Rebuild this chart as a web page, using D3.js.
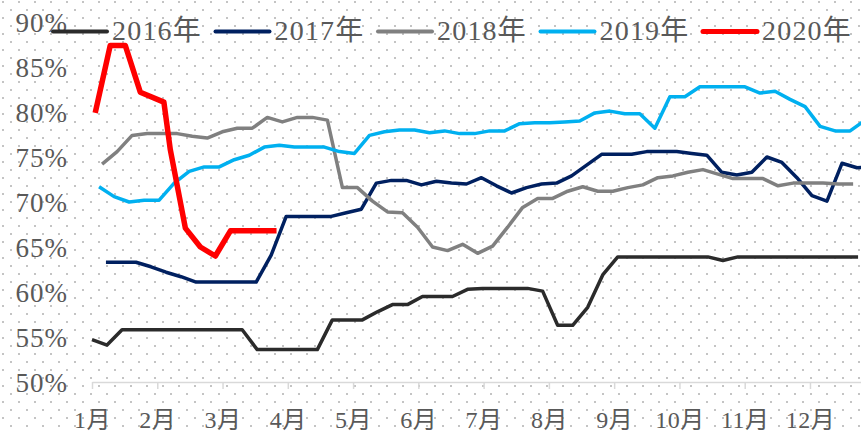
<!DOCTYPE html>
<html>
<head>
<meta charset="utf-8">
<script src="https://cdn.jsdelivr.net/npm/d3@7"></script>
<style>
  html, body { margin: 0; padding: 0; background: #fff; }
  svg { display: block; }
</style>
</head>
<body>
<div id="chart"></div>
<script>
// month labels and y ticks
var months = ["1月","2月","3月","4月","5月","6月","7月","8月","9月","10月","11月","12月"]
var yTicks = [50, 55, 60, 65, 70, 75, 80, 85, 90]
var years = ["2016年","2017年","2018年","2019年","2020年"]
var colours = ["#2b2b2b","#002060","#808080","#00b0f0","#ff0000"]

// weekly series: first point's day of year, one value per week (%)
var startDays = [0, 6.5, 4.7, 3.3]
var v2016 = [54.7,54.1,55.8,55.8,55.8,55.8,55.8,55.8,55.8,55.8,55.8,53.6,53.6,53.6,53.6,53.6,56.9,56.9,56.9,57.8,
  58.6,58.6,59.5,59.5,59.5,60.3,60.4,60.4,60.4,60.4,60.1,56.3,56.3,58.3,61.9,63.9,63.9,63.9,63.9,63.9,
  63.9,63.9,63.5,63.9,63.9,63.9,63.9,63.9,63.9,63.9,63.9,63.9]
var v2017 = [63.3,63.3,63.3,62.8,62.2,61.7,61.1,61.1,61.1,61.1,61.1,64.1,68.4,68.4,68.4,68.4,68.8,69.2,72.1,72.4,
  72.4,71.9,72.3,72.1,72.0,72.7,71.8,71.0,71.6,72.0,72.1,72.9,74.1,75.3,75.3,75.3,75.6,75.6,75.6,75.4,
  75.2,73.3,73.0,73.3,75.0,74.4,72.7,70.7,70.1,74.3,73.8,73.9]
var v2018 = [74.2,75.6,77.4,77.6,77.6,77.6,77.3,77.1,77.8,78.2,78.2,79.4,78.9,79.4,79.4,79.1,71.6,71.6,70.1,68.9,
  68.8,67.2,65.0,64.6,65.3,64.3,65.1,67.2,69.4,70.4,70.4,71.2,71.7,71.2,71.2,71.6,71.9,72.7,72.9,73.3,
  73.6,73.1,72.6,72.6,72.6,71.8,72.1,72.1,72.1,72.0,72.0]
var v2019 = [71.7,70.6,70.0,70.2,70.2,72.1,73.4,73.9,73.9,74.7,75.2,76.1,76.3,76.1,76.1,76.1,75.6,75.4,77.4,77.8,
  78.0,78.0,77.7,77.9,77.6,77.6,77.9,77.9,78.7,78.8,78.8,78.9,79.0,79.9,80.1,79.8,79.8,78.2,81.7,81.7,
  82.8,82.8,82.8,82.8,82.1,82.3,81.4,80.6,78.4,77.9,77.9,79.1]
// 2020 has irregular dates
var days2020 = [1.5,8.5,15.5,22.5,33.5,36.5,43.5,50.5,57.5,64.5,71.5,78.5,86]
var v2020 = [79.9,87.4,87.4,82.2,81.1,75.8,67.1,65.0,64.0,66.8,66.8,66.8,66.8]

var width = 861, height = 433

var svg = d3.select("#chart").append("svg")
  .attr("width", width)
  .attr("height", height)

// dotted background
var defs = svg.append("defs")
var pat = defs.append("pattern")
  .attr("id", "dots")
  .attr("patternUnits", "userSpaceOnUse")
  .attr("width", 16).attr("height", 16)
pat.append("rect").attr("x", 2).attr("y", 1).attr("width", 2).attr("height", 2).attr("fill", "#c4c4c4")
pat.append("rect").attr("x", 10).attr("y", 9).attr("width", 2).attr("height", 2).attr("fill", "#c4c4c4")

svg.append("rect").attr("width", width).attr("height", height).attr("fill", "#fff")
svg.append("rect").attr("width", width).attr("height", height).attr("fill", "url(#dots)")

// scales: x in day of year, month spacing 65.27px
var x = d3.scaleLinear().domain([0, 365]).range([92, 92 + 12 * 65.27])
var y = d3.scaleLinear().domain([50, 90]).range([382, 22])

// x axis
var xAxis = d3.axisBottom(x)
  .tickValues(months.map(function (m, i) { return i * 365 / 12 }))
  .tickFormat(function (d, i) { return months[i] })
  .tickSize(7)
  .tickSizeOuter(0)
  .tickPadding(22)
var gx = svg.append("g")
  .attr("transform", "translate(0," + y(50) + ")")
  .call(xAxis)
gx.select(".domain").attr("stroke", "#d9d9d9").attr("stroke-width", 1.5)
gx.selectAll(".tick line").attr("stroke", "#d9d9d9").attr("stroke-width", 1.5)
gx.selectAll("text")
  .attr("fill", "#595959")
  .style("font-family", "'Liberation Serif', 'Noto Sans CJK SC', serif")
  .style("font-size", "24px")
  .style("letter-spacing", "0.5px")

// y axis
var gy = svg.append("g")
  .attr("transform", "translate(68,0)")
  .call(d3.axisLeft(y).tickValues(yTicks).tickSize(0).tickPadding(0)
    .tickFormat(function (d) { return d + "%" }))
gy.select(".domain").remove()
gy.selectAll("text")
  .attr("fill", "#595959")
  .attr("dy", "0.34em")
  .style("font-family", "'Liberation Serif', serif")
  .style("font-size", "27px")
  .style("letter-spacing", "1px")

// build series
function weekly(start, vals) {
  return vals.map(function (v, i) { return { d: start + 7 * i, v: v } })
}
var series = [
  weekly(startDays[0], v2016),
  weekly(startDays[1], v2017),
  weekly(startDays[2], v2018),
  weekly(startDays[3], v2019),
  v2020.map(function (v, i) { return { d: days2020[i], v: v } })
]
var widths = [3.5, 3.5, 3.5, 3.5, 5.5]

var line = d3.line()
  .x(function (p) { return x(p.d) })
  .y(function (p) { return y(p.v) })

svg.append("g")
  .selectAll("path")
  .data(series)
  .enter().append("path")
    .attr("d", line)
    .attr("fill", "none")
    .attr("stroke", function (d, i) { return colours[i] })
    .attr("stroke-width", function (d, i) { return widths[i] })
    .attr("stroke-linejoin", "round")

// legend
var lg = svg.append("g").attr("class", "legend")
var item = lg.selectAll("g")
  .data(years)
  .enter().append("g")
    .attr("transform", function (d, i) { return "translate(" + (53 + i * 162.5) + ",0)" })
item.append("line")
  .attr("x1", 0).attr("x2", 54)
  .attr("y1", 31.5).attr("y2", 31.5)
  .attr("stroke", function (d, i) { return colours[i] })
  .attr("stroke-width", function (d, i) { return i == 4 ? 5 : 4 })
  .attr("stroke-linecap", "round")
item.append("text")
  .attr("x", 59)
  .attr("y", 40)
  .attr("fill", "#595959")
  .style("font-family", "'Liberation Serif', 'Noto Sans CJK SC', serif")
  .style("font-size", "28px")
  .style("letter-spacing", "1.2px")
  .text(function (d) { return d })
</script>
</body>
</html>
